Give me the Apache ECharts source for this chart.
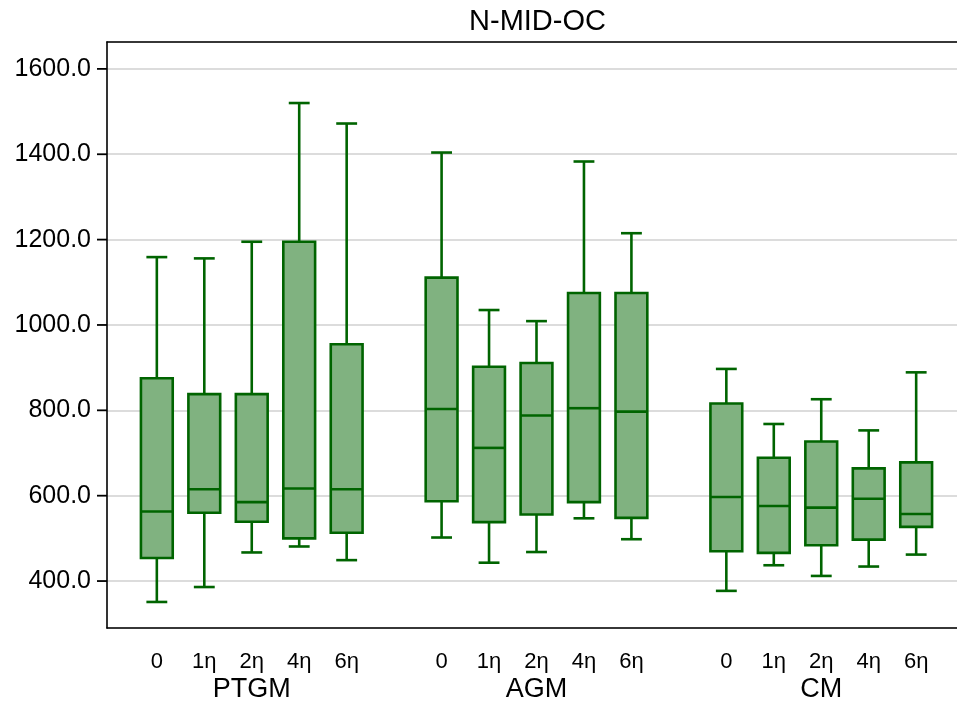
<!DOCTYPE html>
<html>
<head>
<meta charset="utf-8">
<title>N-MID-OC</title>
<script src="https://cdn.jsdelivr.net/npm/echarts@6/dist/echarts.min.js"></script>
<style>
  html, body { margin: 0; padding: 0; background: #fff; }
  #chart { width: 957px; height: 718px; }
</style>
</head>
<body>
<div id="chart"></div>
<script>
// Groups and dose levels along the x axis
const groups = ['PTGM', 'AGM', 'CM'];
const doses = ['0', '1η', '2η', '4η', '6η'];

// Box statistics, ordered PTGM(0..6η), AGM(0..6η), CM(0..6η)
const whiskerLow  = [351, 386, 467, 481, 449,   502, 443, 468, 547, 498,   377, 437, 412, 434, 462];
const quartile1   = [454, 560, 539, 500, 513,   587, 538, 556, 585, 548,   470, 466, 484, 497, 527];
const medians     = [563, 615, 585, 617, 615,   803, 712, 788, 805, 797,   597, 576, 572, 593, 557];
const quartile3   = [875, 838, 838, 1195, 955,  1111, 902, 911, 1075, 1075, 816, 689, 727, 664, 678];
const whiskerHigh = [1159, 1156, 1195, 1520, 1472, 1404, 1035, 1009, 1383, 1215, 897, 768, 826, 753, 889];

// Y tick labels
const yTicks = [400, 600, 800, 1000, 1200, 1400, 1600];

const FILL = '#80b280';
const EDGE = '#006400';
const BOX_W = 0.67;   // box width in x-axis units
const CAP_W = 0.44;   // whisker cap width in x-axis units
const X_MIN = -0.05, X_MAX = 18.05;
const Y_MIN = 290, Y_MAX = 1663;
const TICK_LEN = 10;

// Each group occupies 5 slots, followed by one empty slot
const slotPos = (g, i) => g * (doses.length + 1) + i + 1;

const rows = [];
const doseTickPos = [];
const doseLabelAt = {};
groups.forEach((g, gi) => {
  doses.forEach((d, di) => {
    const k = gi * doses.length + di;
    const x = slotPos(gi, di);
    rows.push([x, whiskerLow[k], quartile1[k], medians[k], quartile3[k], whiskerHigh[k]]);
    doseTickPos.push(x);
    doseLabelAt[x] = d;
  });
});
const groupTickPos = groups.map((g, gi) => slotPos(gi, (doses.length - 1) / 2));
const groupLabelAt = {};
groups.forEach((g, gi) => { groupLabelAt[groupTickPos[gi]] = g; });

const FONT = '"Liberation Sans", Arial, Helvetica, sans-serif';
const FRAME = { color: '#000', width: 1.6 };

function renderBox(params, api) {
  const x = api.value(0);
  const pLo = api.coord([x, api.value(1)]);
  const pQ1 = api.coord([x, api.value(2)]);
  const pMd = api.coord([x, api.value(3)]);
  const pQ3 = api.coord([x, api.value(4)]);
  const pHi = api.coord([x, api.value(5)]);
  const bw = api.size([BOX_W, 0])[0];
  const cw = api.size([CAP_W, 0])[0];
  const cx = pMd[0];
  const ls = { stroke: EDGE, lineWidth: 2.6, fill: null };
  return {
    type: 'group',
    children: [
      { type: 'line', shape: { x1: cx, y1: pHi[1], x2: cx, y2: pQ3[1] }, style: ls },
      { type: 'line', shape: { x1: cx, y1: pQ1[1], x2: cx, y2: pLo[1] }, style: ls },
      { type: 'line', shape: { x1: cx - cw / 2, y1: pHi[1], x2: cx + cw / 2, y2: pHi[1] }, style: ls },
      { type: 'line', shape: { x1: cx - cw / 2, y1: pLo[1], x2: cx + cw / 2, y2: pLo[1] }, style: ls },
      { type: 'rect', shape: { x: cx - bw / 2, y: pQ3[1], width: bw, height: pQ1[1] - pQ3[1] },
        style: { fill: FILL, stroke: EDGE, lineWidth: 2.6 } },
      { type: 'line', shape: { x1: cx - bw / 2, y1: pMd[1], x2: cx + bw / 2, y2: pMd[1] }, style: ls }
    ]
  };
}

const titleGraphic = {
  id: 'title',
  type: 'text',
  x: 537.5,
  y: 22,
  style: { text: 'N-MID-OC', font: '29px ' + FONT, fill: '#000', textAlign: 'center', textVerticalAlign: 'middle' }
};

const chart = echarts.init(document.getElementById('chart'), null, { renderer: 'canvas' });
chart.setOption({
  animation: false,
  backgroundColor: '#ffffff',
  graphic: [titleGraphic],
  grid: {
    left: 107, right: -9, top: 42, bottom: 90,
    show: false,
    outerBoundsMode: 'none'
  },
  xAxis: [{
    // dose labels + bottom frame line
    type: 'value', min: X_MIN, max: X_MAX, position: 'bottom',
    axisLine: { show: true, onZero: false, lineStyle: FRAME },
    axisTick: { show: false },
    splitLine: { show: false },
    axisLabel: {
      customValues: doseTickPos,
      formatter: v => doseLabelAt[v] || '',
      fontFamily: FONT, fontSize: 22, color: '#000', margin: 23
    }
  }, {
    // group labels
    type: 'value', min: X_MIN, max: X_MAX, position: 'bottom',
    axisLine: { show: false, onZero: false },
    axisTick: { show: false },
    splitLine: { show: false },
    axisLabel: {
      customValues: groupTickPos,
      formatter: v => groupLabelAt[v] || '',
      fontFamily: FONT, fontSize: 27, color: '#000', margin: 48
    }
  }, {
    // top frame line
    type: 'value', min: X_MIN, max: X_MAX, position: 'top',
    axisLine: { show: true, onZero: false, lineStyle: FRAME },
    axisTick: { show: false },
    axisLabel: { show: false },
    splitLine: { show: false }
  }],
  yAxis: {
    type: 'value', min: Y_MIN, max: Y_MAX, splitNumber: 7,
    axisLine: { show: true, onZero: false, lineStyle: FRAME },
    axisTick: { show: false },
    axisLabel: {
      customValues: yTicks,
      formatter: v => Number(v).toFixed(1),
      fontFamily: FONT, fontSize: 25, color: '#000', margin: 16
    },
    splitLine: { show: true, lineStyle: { color: '#dcdcdc', width: 2 } }
  },
  series: [{
    type: 'custom',
    name: 'N-MID-OC',
    xAxisIndex: 0,
    yAxisIndex: 0,
    renderItem: renderBox,
    encode: { x: 0, y: [1, 2, 3, 4, 5] },
    data: rows,
    z: 3
  }]
});

// Outward tick marks on the left axis, placed through the y-axis scale
const axisX = chart.convertToPixel({ xAxisIndex: 0 }, X_MIN);
const tickGraphics = yTicks.map((v, i) => {
  const y = chart.convertToPixel({ yAxisIndex: 0 }, v);
  return {
    id: 'ytick' + i,
    type: 'line',
    z: 10,
    shape: { x1: axisX - TICK_LEN, y1: y, x2: axisX, y2: y },
    style: { stroke: '#000', lineWidth: 1.8 }
  };
});
chart.setOption({ graphic: [titleGraphic].concat(tickGraphics) });
</script>
</body>
</html>
